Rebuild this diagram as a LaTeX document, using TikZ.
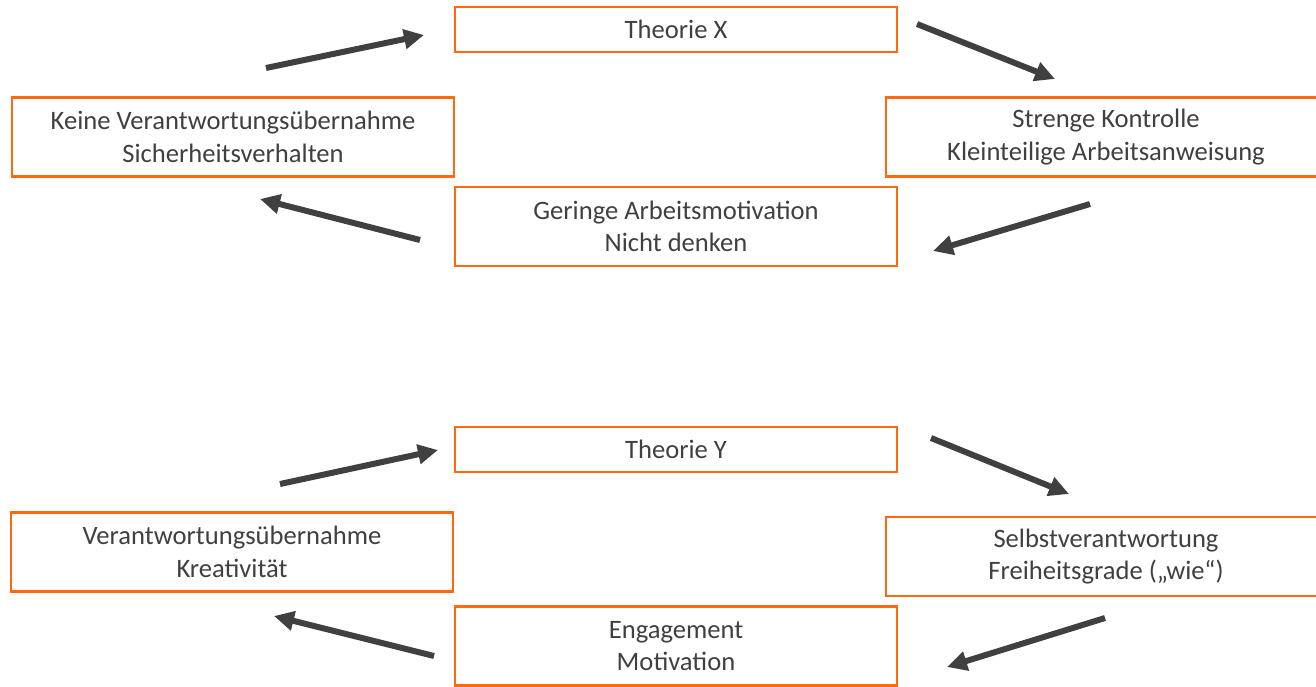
\documentclass[tikz,border=0pt]{standalone}
\usepackage{fontspec}
\setmainfont{Carlito}
\usetikzlibrary{arrows.meta}
\definecolor{boxorange}{HTML}{FF6A10}
\definecolor{inkgrey}{HTML}{404040}
\begin{document}
\begin{tikzpicture}[x=1pt,y=-1pt,
  box/.style={draw=boxorange, line width=2.4pt, fill=white, rectangle,
    align=center, text=inkgrey, inner sep=0pt,
    font=\fontsize{26.6}{32.5}\selectfont},
  onebox/.style={box, minimum width=442pt, minimum height=45pt},
  twobox/.style={box, minimum width=442pt, minimum height=79pt},
  arr/.style={draw=inkgrey, line width=6pt,
    -{Triangle[length=20pt,width=19pt]}}]
\useasboundingbox (0,0) rectangle (1316,686);

% Theory X cycle
\node[onebox] (tx) at (676,29.5) {Theorie X};
\node[twobox] (kx) at (233,137) {Keine Verantwortungsübernahme\\Sicherheitsverhalten};
\node[twobox, minimum width=440pt] (sx) at (1106,137) {Strenge Kontrolle\\Kleinteilige Arbeitsanweisung};
\node[twobox] (gx) at (676,226.5) {Geringe Arbeitsmotivation\\Nicht denken};

\coordinate (x1s) at (266,68);   \coordinate (x1e) at (424,35);
\coordinate (x2s) at (917,24);   \coordinate (x2e) at (1055,79);
\coordinate (x3s) at (1090,204); \coordinate (x3e) at (933,251);
\coordinate (x4s) at (420,240);  \coordinate (x4e) at (260,199);
\draw[arr] (x1s) -- (x1e);
\draw[arr] (x2s) -- (x2e);
\draw[arr] (x3s) -- (x3e);
\draw[arr] (x4s) -- (x4e);

% Theory Y cycle
\node[onebox] (ty) at (676,449.5) {Theorie Y};
\node[twobox] (vy) at (232,552) {Verantwortungsübernahme\\Kreativität};
\node[twobox, minimum width=440pt] (sy) at (1106,556.5) {Selbstverantwortung\\Freiheitsgrade („wie“)};
\node[twobox] (ey) at (676,646) {Engagement\\Motivation};

\coordinate (y1s) at (280,484);  \coordinate (y1e) at (438,450);
\coordinate (y2s) at (931,438);  \coordinate (y2e) at (1069,494);
\coordinate (y3s) at (1105,618); \coordinate (y3e) at (947,667);
\coordinate (y4s) at (434,656);  \coordinate (y4e) at (274,616);
\draw[arr] (y1s) -- (y1e);
\draw[arr] (y2s) -- (y2e);
\draw[arr] (y3s) -- (y3e);
\draw[arr] (y4s) -- (y4e);
\end{tikzpicture}
\end{document}
